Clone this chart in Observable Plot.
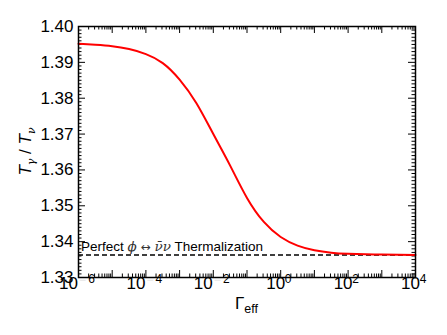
<!DOCTYPE html>
<html><head><meta charset="utf-8">
<script src="https://cdn.jsdelivr.net/npm/d3@7"></script>
<script src="https://cdn.jsdelivr.net/npm/@observablehq/plot@0.6"></script>
<style>
body{margin:0;background:#fff;}
#chart{width:447px;height:335px;}
</style></head>
<body><div id="chart"></div>
<script>
// Data
const gammaEff = [1e-6, 10**-5.5, 1e-5, 10**-4.5, 1e-4, 10**-3.5, 1e-3, 10**-2.5, 1e-2, 10**-1.5, 1e-1, 10**-0.5, 1, 10**0.5, 10, 10**1.5, 100, 1000, 10000];
const tRatio   = [1.3952, 1.3949, 1.3945, 1.3937, 1.3923, 1.3898, 1.3852, 1.3786, 1.3700, 1.3612, 1.3522, 1.3455, 1.3413, 1.3389, 1.3376, 1.3369, 1.3366, 1.3364, 1.3363];
const thermalValue = 1.3363;
const yTickValues = [1.33, 1.34, 1.35, 1.36, 1.37, 1.38, 1.39, 1.40];
const xLabelExponents = [-6, -4, -2, 0, 2, 4];
const xDecadeExponents = [-6, -5, -4, -3, -2, -1, 0, 1, 2, 3, 4];
const annotationParts = ["Perfect ", "ϕ", " ↔ ", "ν̄ν", " Thermalization"];

const W = 447, H = 335, mL = 78, mR = 32, mT = 26, mB = 58;
const fw = W - mL - mR, fh = H - mT - mB;
const major = 7, minor = 3.5;

const curve = gammaEff.map((g, i) => ({g, t: tRatio[i]}));
const xMajor = xDecadeExponents.map(e => 10 ** e);
const xMinor = [];
for (const e of xDecadeExponents.slice(0, -1)) for (let m = 2; m <= 9; m++) xMinor.push(m * 10 ** e);
const yMinor = d3.range(1330, 1401).map(v => v / 1000).filter(v => Math.round(v * 1000) % 10 !== 0);
const xLabNeg = xLabelExponents.filter(e => e < 0).map(e => ({v: 10 ** e, e}));
const xLabPos = xLabelExponents.filter(e => e >= 0).map(e => ({v: 10 ** e, e}));

const font = "Liberation Sans, Arial, Helvetica, sans-serif";

const plot = Plot.plot({
  width: W, height: H,
  marginLeft: mL, marginRight: mR, marginTop: mT, marginBottom: mB,
  style: {background: "#fff", color: "#000", fontFamily: font},
  x: {type: "log", domain: [1e-6, 1e4], axis: null},
  y: {domain: [1.33, 1.40], axis: null},
  marks: [
    // inward ticks on all sides
    Plot.tickX(xMajor, {x: d => d, insetTop: fh - major, stroke: "#000"}),
    Plot.tickX(xMajor, {x: d => d, insetBottom: fh - major, stroke: "#000"}),
    Plot.tickX(xMinor, {x: d => d, insetTop: fh - minor, stroke: "#000"}),
    Plot.tickX(xMinor, {x: d => d, insetBottom: fh - minor, stroke: "#000"}),
    Plot.tickY(yTickValues, {y: d => d, insetRight: fw - major, stroke: "#000"}),
    Plot.tickY(yTickValues, {y: d => d, insetLeft: fw - major, stroke: "#000"}),
    Plot.tickY(yMinor, {y: d => d, insetRight: fw - minor, stroke: "#000"}),
    Plot.tickY(yMinor, {y: d => d, insetLeft: fw - minor, stroke: "#000"}),
    Plot.axisY(yTickValues, {tickSize: 0, tickPadding: 5, fontSize: 17, label: null, tickFormat: d => d.toFixed(2), fill: "#000"}),
    // x tick labels: 10 with superscript exponent
    Plot.text(xLabNeg, {x: "v", frameAnchor: "bottom", text: () => "10", dx: -10, dy: 11, fontSize: 17, fill: "#000"}),
    Plot.text(xLabNeg, {x: "v", frameAnchor: "bottom", text: () => "−", dx: 4, dy: 6, fontSize: 12, fill: "#e4e4e4"}),
    Plot.text(xLabNeg, {x: "v", frameAnchor: "bottom", text: d => String(Math.abs(d.e)), dx: 13, dy: 5, fontSize: 12, fill: "#000"}),
    Plot.text(xLabPos, {x: "v", frameAnchor: "bottom", text: () => "10", dx: -5, dy: 11, fontSize: 17, fill: "#000"}),
    Plot.text(xLabPos, {x: "v", frameAnchor: "bottom", text: d => String(d.e), dx: 7.5, dy: 5, fontSize: 12, fill: "#000"}),
    Plot.ruleY([thermalValue], {stroke: "#000", strokeWidth: 1.5, strokeDasharray: "5,3"}),
    Plot.line(curve, {x: "g", y: "t", stroke: "#ff0000", strokeWidth: 2, curve: "natural"}),
    Plot.frame({stroke: "#000", strokeWidth: 1.5})
  ]
});
document.getElementById("chart").appendChild(plot);

const sx = plot.scale("x"), sy = plot.scale("y");
const svg = d3.select(plot);

// annotation
const ann = svg.append("text")
  .attr("x", sx.apply(1e-6) + 3).attr("y", sy.apply(thermalValue) - 3)
  .attr("text-anchor", "start")
  .attr("font-family", font).attr("font-size", 13.5).attr("fill", "#000");
annotationParts.forEach((p, i) => {
  const t = ann.append("tspan").text(p);
  if (i === 1 || i === 3) t.attr("font-style", "italic").attr("font-family", "DejaVu Serif, serif").attr("fill", "#333");
  if (i === 2) t.attr("font-family", "DejaVu Sans, sans-serif").attr("font-size", 12).attr("fill", "#333");
});

// x label
const xl = svg.append("text")
  .attr("x", (mL + W - mR) / 2).attr("y", 309)
  .attr("text-anchor", "middle").attr("font-family", font).attr("fill", "#000");
xl.append("tspan").attr("font-size", 17).text("Γ");
xl.append("tspan").attr("font-size", 12.5).attr("dy", 4).text("eff");

// y label
const yl = svg.append("text")
  .attr("transform", `translate(31,${(mT + H - mB) / 2}) rotate(-90)`)
  .attr("text-anchor", "middle").attr("font-family", font).attr("fill", "#000");
yl.append("tspan").attr("font-size", 17).attr("font-style", "italic").text("T");
yl.append("tspan").attr("font-size", 11).attr("font-style", "italic").attr("font-family", "DejaVu Serif, serif").attr("dy", 4).text("γ");
yl.append("tspan").attr("font-size", 17).attr("dy", -4).text(" / ");
yl.append("tspan").attr("font-size", 17).attr("font-style", "italic").text("T");
yl.append("tspan").attr("font-size", 11).attr("font-style", "italic").attr("font-family", "DejaVu Serif, serif").attr("dy", 4).text("ν");
</script>
</body></html>
